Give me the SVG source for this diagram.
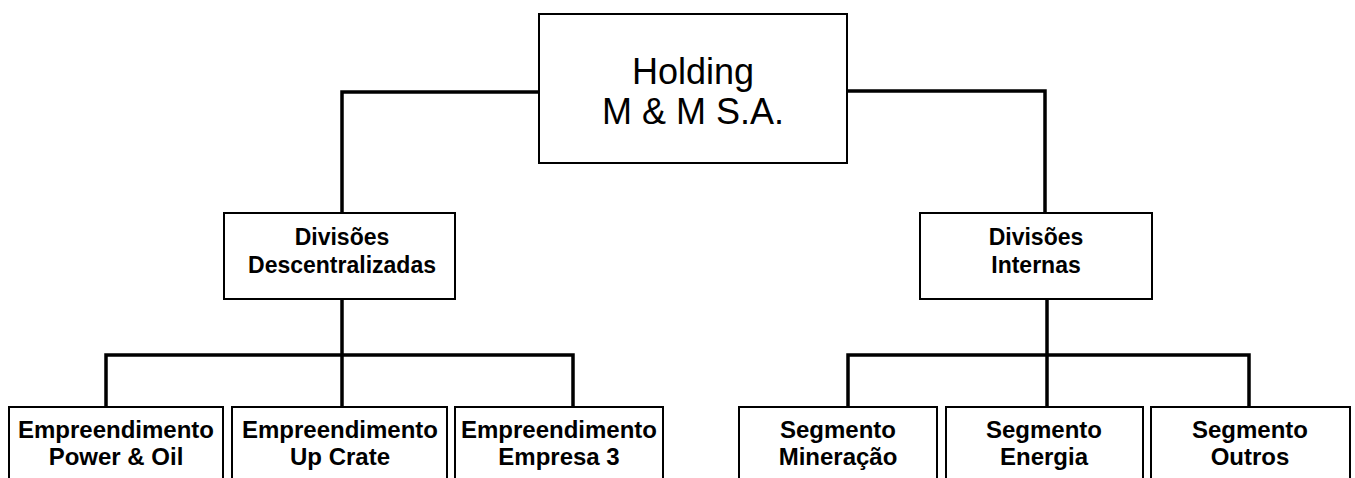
<svg xmlns="http://www.w3.org/2000/svg" width="1355" height="478" viewBox="0 0 1355 478">
<style>
.box{fill:#fff;stroke:#000;stroke-width:2}
.con{fill:none;stroke:#000;stroke-width:3.5;stroke-linejoin:miter}
.t{font-family:"Liberation Sans",Arial,sans-serif;text-anchor:middle;fill:#000}
.b{font-weight:bold;font-size:24px}
.d{font-weight:bold;font-size:23px}
.h{font-size:36px}
</style>
<rect width="1355" height="478" fill="#fff"/>
<g id="connectors">
<polyline class="con" points="539,92 342,92 342,213"/>
<polyline class="con" points="847,91 1045,91 1045,213"/>
<line class="con" x1="342" y1="299" x2="342" y2="407"/>
<polyline class="con" points="106,407 106,355 573,355 573,407"/>
<line class="con" x1="1047" y1="299" x2="1047" y2="407"/>
<polyline class="con" points="848,407 848,355 1249,355 1249,407"/>
</g>
<g id="holding">
<rect class="box" x="539" y="14" width="308" height="149"/>
<text class="t h" x="693" y="84">Holding</text>
<text class="t h" x="693" y="124">M &amp; M S.A.</text>
</g>
<g id="div-desc">
<rect class="box" x="224" y="213" width="231" height="86"/>
<text class="t d" x="342" y="245">Divisões</text>
<text class="t d" x="342" y="273">Descentralizadas</text>
</g>
<g id="div-int">
<rect class="box" x="920" y="213" width="232" height="86"/>
<text class="t d" x="1036" y="245">Divisões</text>
<text class="t d" x="1036" y="273">Internas</text>
</g>
<g id="emp1">
<rect class="box" x="9" y="407" width="214" height="100"/>
<text class="t b" x="116" y="438">Empreendimento</text>
<text class="t b" x="116" y="465">Power &amp; Oil</text>
</g>
<g id="emp2">
<rect class="box" x="232" y="407" width="215" height="100"/>
<text class="t b" x="340" y="438">Empreendimento</text>
<text class="t b" x="340" y="465">Up Crate</text>
</g>
<g id="emp3">
<rect class="box" x="455" y="407" width="208" height="100"/>
<text class="t b" x="559" y="438">Empreendimento</text>
<text class="t b" x="559" y="465">Empresa 3</text>
</g>
<g id="seg1">
<rect class="box" x="739" y="407" width="198" height="100"/>
<text class="t b" x="838" y="438">Segmento</text>
<text class="t b" x="838" y="465">Mineração</text>
</g>
<g id="seg2">
<rect class="box" x="946" y="407" width="197" height="100"/>
<text class="t b" x="1044" y="438">Segmento</text>
<text class="t b" x="1044" y="465">Energia</text>
</g>
<g id="seg3">
<rect class="box" x="1151" y="407" width="199" height="100"/>
<text class="t b" x="1250" y="438">Segmento</text>
<text class="t b" x="1250" y="465">Outros</text>
</g>
</svg>
